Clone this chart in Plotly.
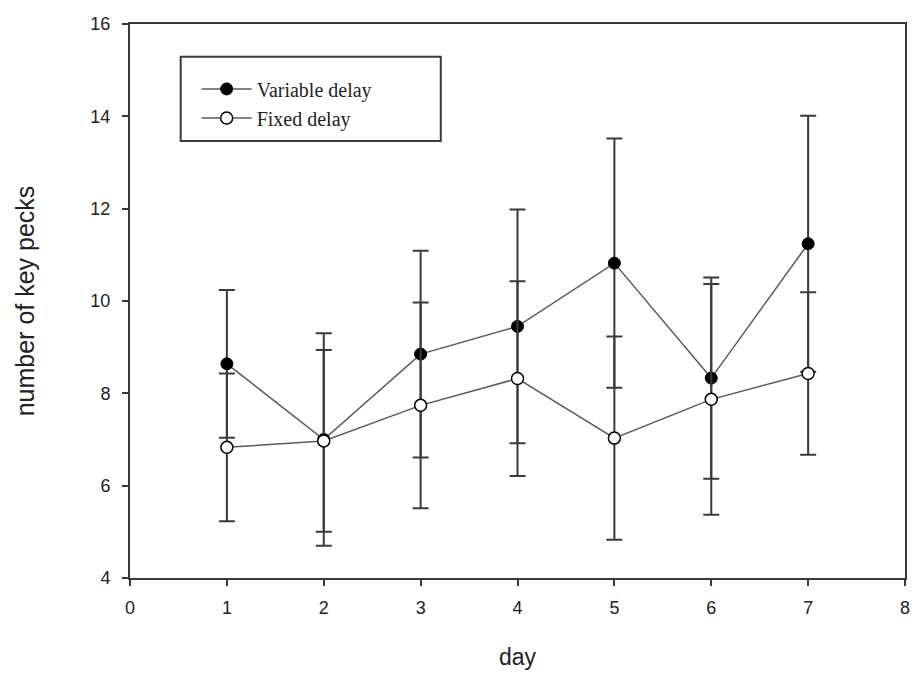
import plotly.graph_objects as go

days = [1, 2, 3, 4, 5, 6, 7]
variable_mean = [8.64, 7.00, 8.85, 9.45, 10.82, 8.33, 11.24]
variable_err = [1.60, 2.30, 2.24, 2.53, 2.70, 2.18, 2.77]
fixed_mean = [6.83, 6.97, 7.74, 8.32, 7.03, 7.87, 8.43]
fixed_err = [1.60, 1.97, 2.23, 2.11, 2.20, 2.50, 1.76]

x_ticks = [0, 1, 2, 3, 4, 5, 6, 7, 8]
y_ticks = [4, 6, 8, 10, 12, 14, 16]

axis_color = "#3a3a3a"
line_color = "#5a5a5a"

fig = go.Figure()
fig.add_trace(go.Scatter(
    x=days, y=variable_mean, name="Variable delay", mode="lines+markers",
    line=dict(color=line_color, width=1.5),
    marker=dict(symbol="circle", size=12, color="black", line=dict(color="black", width=1)),
    error_y=dict(type="data", array=variable_err, visible=True, color=axis_color, thickness=2, width=8),
))
fig.add_trace(go.Scatter(
    x=days, y=fixed_mean, name="Fixed delay", mode="lines+markers",
    line=dict(color=line_color, width=1.5),
    marker=dict(symbol="circle", size=12, color="white", line=dict(color="black", width=1.5)),
    error_y=dict(type="data", array=fixed_err, visible=True, color=axis_color, thickness=2, width=8),
))

fig.update_layout(
    width=902, height=662,
    margin=dict(l=122, r=0, t=16, b=86),
    paper_bgcolor="white", plot_bgcolor="white",
    font=dict(family="Liberation Sans, Arial, sans-serif", color="#222"),
    showlegend=True,
    legend=dict(
        x=0.086, y=0.918, xanchor="left", yanchor="top",
        bgcolor="rgba(0,0,0,0)", borderwidth=0,
        font=dict(family="Liberation Serif, Times New Roman, serif", size=20, color="#222"),
        itemwidth=50, tracegroupgap=0,
    ),
    shapes=[dict(type="rect", xref="paper", yref="paper",
                 x0=0.0654, x1=0.401, y0=0.789, y1=0.941,
                 line=dict(color=axis_color, width=2), fillcolor="rgba(0,0,0,0)")],
)

fig.update_xaxes(
    range=[0, 8], tickvals=x_ticks, showgrid=False, zeroline=False,
    showline=True, linecolor=axis_color, linewidth=2, mirror=True,
    ticks="outside", ticklen=6, tickwidth=1.5, tickcolor=axis_color,
    tickfont=dict(size=18, color="#222"), ticklabelstandoff=6,
    ticklabeloverflow="allow",
    title=dict(text="day", font=dict(size=23, color="#222"), standoff=36),
)
fig.update_yaxes(
    range=[4, 16], tickvals=y_ticks, showgrid=False, zeroline=False,
    showline=True, linecolor=axis_color, linewidth=2, mirror=True,
    ticks="outside", ticklen=6, tickwidth=1.5, tickcolor=axis_color,
    tickfont=dict(size=18, color="#222"), ticklabelstandoff=8,
    ticklabeloverflow="allow",
    title=dict(text="number of key pecks", font=dict(size=25, color="#222"), standoff=49),
)

fig.write_html("out.html")
